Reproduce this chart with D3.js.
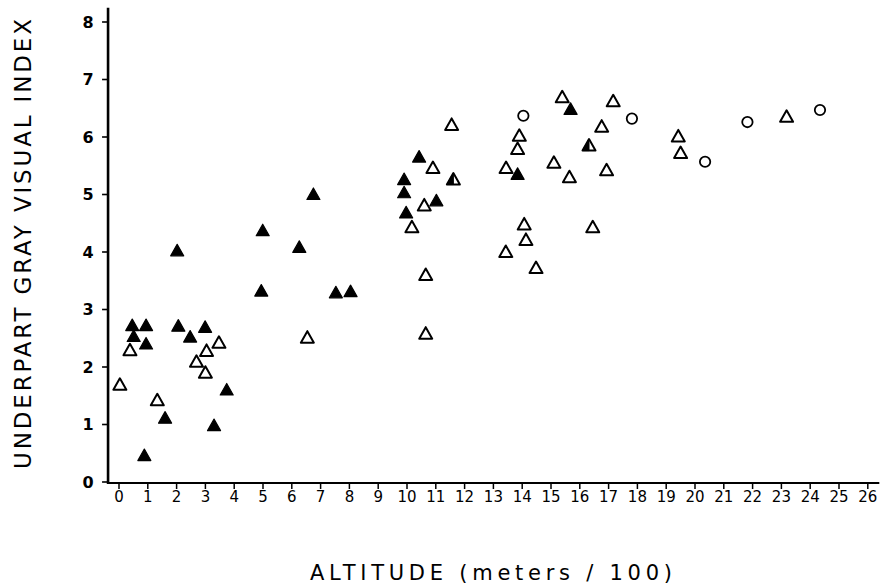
<!DOCTYPE html>
<html>
<head>
<meta charset="utf-8">
<script src="https://cdn.jsdelivr.net/npm/d3@7"></script>
<style>
    body { margin: 0; background: #fff; }
    svg { display: block; }
    .tickLabel { font-family: 'DejaVu Sans', sans-serif; font-size: 15px; fill: #000; }
    .axisTitle { font-family: 'DejaVu Sans', sans-serif; fill: #000; }
</style>
</head>
<body>
<svg id="chart" width="887" height="585"></svg>
<script>
// altitude (meters / 100) vs underpart gray visual index
var filledX = [0.46, 0.94, 0.51, 0.94, 0.88, 1.60, 2.02, 2.06, 2.47, 2.99, 3.30, 3.74, 4.99, 4.94, 6.26, 6.75, 7.53, 8.04, 10.42, 9.90, 9.90, 9.97, 11.02, 13.84, 15.68];
var filledY = [2.70, 2.70, 2.51, 2.38, 0.44, 1.09, 4.00, 2.69, 2.50, 2.67, 0.96, 1.58, 4.35, 3.30, 4.06, 4.98, 3.27, 3.29, 5.63, 5.24, 5.01, 4.66, 4.87, 5.33, 6.46];

var openX = [0.03, 0.38, 1.33, 2.69, 3.00, 3.04, 3.47, 6.54, 10.60, 10.17, 10.65, 10.65, 10.90, 11.55, 13.90, 13.84, 13.44, 15.10, 15.64, 14.07, 14.13, 13.43, 14.48, 16.45, 15.39, 17.16, 16.76, 16.93, 19.42, 19.50, 23.18];
var openY = [1.67, 2.27, 1.40, 2.07, 1.88, 2.26, 2.40, 2.49, 4.79, 4.41, 3.58, 2.56, 5.44, 6.19, 6.00, 5.77, 5.44, 5.53, 5.28, 4.46, 4.19, 3.98, 3.70, 4.41, 6.67, 6.60, 6.16, 5.40, 5.99, 5.70, 6.33];

var halfX = [11.61, 16.32];
var halfY = [5.24, 5.83];

var circleX = [14.04, 17.81, 20.35, 21.82, 24.34];
var circleY = [6.37, 6.32, 5.57, 6.26, 6.47];

var xTicks = d3.range(0, 27);
var yTicks = d3.range(0, 9);

var svg = d3.select('#chart');

var x = d3.scaleLinear().domain([0, 26]).range([119, 867.8]);
var y = d3.scaleLinear().domain([0, 8]).range([482, 22]);

// axis lines
svg.append('line')
    .attr('x1', x(-0.38)).attr('x2', x(26.4))
    .attr('y1', y(0) + 1).attr('y2', y(0) + 1)
    .attr('stroke', '#000').attr('stroke-width', 2.2);
svg.append('line')
    .attr('x1', x(-0.38)).attr('x2', x(-0.38))
    .attr('y1', y(8.25)).attr('y2', y(0) + 2)
    .attr('stroke', '#000').attr('stroke-width', 2.6);

// y ticks
var yAxis = svg.append('g');
yAxis.selectAll('line').data(yTicks).enter().append('line')
    .attr('x1', x(-0.38) - 6).attr('x2', x(-0.38))
    .attr('y1', function(d) { return y(d); })
    .attr('y2', function(d) { return y(d); })
    .attr('stroke', '#000').attr('stroke-width', 1.6);
yAxis.selectAll('text').data(yTicks).enter().append('text').classed('tickLabel', true)
    .attr('x', 88)
    .attr('y', function(d) { return y(d) + 5.5; })
    .attr('text-anchor', 'middle')
    .style('font-size', '16px')
    .style('font-weight', 'bold')
    .text(function(d) { return d; });

// x ticks
var xAxis = svg.append('g');
xAxis.selectAll('line').data(xTicks).enter().append('line')
    .attr('x1', function(d) { return x(d); })
    .attr('x2', function(d) { return x(d); })
    .attr('y1', y(0) + 1).attr('y2', y(0) + 7)
    .attr('stroke', '#000').attr('stroke-width', 1.5);
xAxis.selectAll('text').data(xTicks).enter().append('text').classed('tickLabel', true)
    .attr('x', function(d) { return x(d); })
    .attr('y', 502)
    .attr('text-anchor', 'middle')
    .text(function(d) { return d; });

// axis titles
svg.append('text').classed('axisTitle', true)
    .attr('x', 310).attr('y', 580)
    .attr('textLength', 362).attr('lengthAdjust', 'spacing')
    .style('font-size', '21px')
    .text('ALTITUDE (meters / 100)');

svg.append('text').classed('axisTitle', true)
    .attr('transform', 'translate(31,469) rotate(-90)')
    .attr('textLength', 450).attr('lengthAdjust', 'spacing')
    .style('font-size', '23px')
    .text('UNDERPART GRAY VISUAL INDEX');

// markers
var tw = 13, th = 11.5;
function triPath(px, py) {
    return 'M' + px + ',' + (py - th * 2 / 3) +
        'L' + (px + tw / 2) + ',' + (py + th / 3) +
        'L' + (px - tw / 2) + ',' + (py + th / 3) + 'Z';
}
function leftHalf(px, py) {
    return 'M' + px + ',' + (py - th * 2 / 3) +
        'L' + px + ',' + (py + th / 3) +
        'L' + (px - tw / 2) + ',' + (py + th / 3) + 'Z';
}

svg.append('g').selectAll('path').data(filledX).enter().append('path')
    .attr('d', function(d, i) { return triPath(x(d), y(filledY[i])); })
    .attr('fill', '#000').attr('stroke', '#000').attr('stroke-width', 1.2)
    .attr('stroke-linejoin', 'round');

svg.append('g').selectAll('path').data(openX).enter().append('path')
    .attr('d', function(d, i) { return triPath(x(d), y(openY[i])); })
    .attr('fill', '#fff').attr('stroke', '#000').attr('stroke-width', 2)
    .attr('stroke-linejoin', 'round');

var half = svg.append('g').selectAll('g').data(halfX).enter().append('g');
half.append('path')
    .attr('d', function(d, i) { return triPath(x(d), y(halfY[i])); })
    .attr('fill', '#fff').attr('stroke', '#000').attr('stroke-width', 2)
    .attr('stroke-linejoin', 'round');
half.append('path')
    .attr('d', function(d, i) { return leftHalf(x(d), y(halfY[i])); })
    .attr('fill', '#000').attr('stroke', '#000').attr('stroke-width', 1);

svg.append('g').selectAll('circle').data(circleX).enter().append('circle')
    .attr('cx', function(d) { return x(d); })
    .attr('cy', function(d, i) { return y(circleY[i]); })
    .attr('r', 5.2)
    .attr('fill', '#fff').attr('stroke', '#000').attr('stroke-width', 1.8);
</script>
</body>
</html>
